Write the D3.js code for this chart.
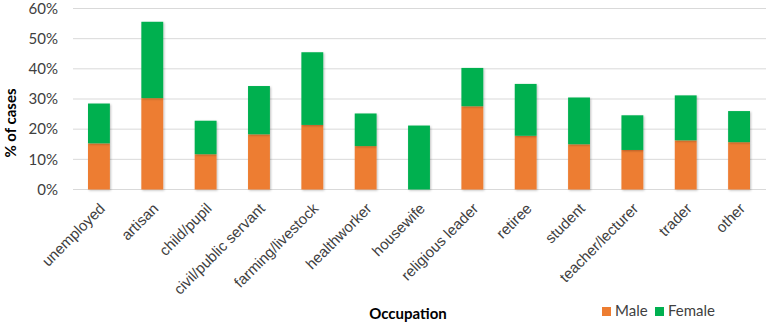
<!DOCTYPE html>
<html>
<head>
<meta charset="utf-8">
<script src="https://cdn.jsdelivr.net/npm/d3@7"></script>
<style>
    body { margin: 0; background: #fff; }
    svg { display: block; font-family: Lato, "Open Sans", sans-serif; }
</style>
</head>
<body>
<div id="chart"></div>
<script>
const categories = ['unemployed', 'artisan', 'child/pupil', 'civil/public servant', 'farming/livestock',
    'healthworker', 'housewife', 'religious leader', 'retiree', 'student', 'teacher/lecturer', 'trader', 'other'];
const maleValues = [15.3, 30.3, 11.7, 18.3, 21.4, 14.4, 0, 27.6, 17.8, 15.0, 13.1, 16.3, 15.7];
const femaleValues = [13.2, 25.3, 11.1, 16.0, 24.1, 10.8, 21.2, 12.7, 17.2, 15.5, 11.5, 14.9, 10.3];
const seriesNames = ['Male', 'Female'];
const yTicks = [0, 10, 20, 30, 40, 50, 60];

const width = 767;
const height = 325;
const margin = { top: 8.5, right: 1, bottom: 135.5, left: 72 };

const colors = { Male: '#ED7D31', Female: '#00B050' };

// Build stack rows
const data = categories.map((c, i) => ({ name: c, Male: maleValues[i], Female: femaleValues[i] }));
const stacked = d3.stack().keys(seriesNames)(data);

const svg = d3.select('#chart')
    .append('svg')
    .attr('width', width)
    .attr('height', height);

// Bar shadow
const defs = svg.append('defs');
const filter = defs.append('filter')
    .attr('id', 'shadow')
    .attr('x', '-20%').attr('y', '-20%')
    .attr('width', '150%').attr('height', '150%');
filter.append('feDropShadow')
    .attr('dx', 1).attr('dy', 1)
    .attr('stdDeviation', 1)
    .attr('flood-color', '#000')
    .attr('flood-opacity', 0.25);

const x = d3.scaleBand()
    .domain(categories)
    .range([margin.left, width - margin.right])
    .paddingInner(0.59)
    .paddingOuter(0.3);

const y = d3.scaleLinear()
    .domain([0, 60])
    .range([height - margin.bottom, margin.top]);

// Grid lines
svg.append('g')
    .attr('class', 'grid')
    .selectAll('line')
    .data(yTicks)
    .join('line')
    .attr('x1', margin.left + 1)
    .attr('x2', width - margin.right)
    .attr('y1', d => y(d))
    .attr('y2', d => y(d))
    .attr('stroke', '#d9d9d9')
    .attr('stroke-width', 1);

// Y axis
const yAxis = svg.append('g')
    .attr('transform', `translate(${margin.left},0)`)
    .call(d3.axisLeft(y).tickValues(yTicks).tickFormat(d => d + '%').tickSize(0).tickPadding(14));
yAxis.select('.domain').remove();
yAxis.selectAll('text')
    .attr('font-size', 15)
    .attr('font-family', 'Lato, sans-serif')
    .attr('fill', '#404040');

// Bars
svg.append('g')
    .attr('class', 'bars')
    .selectAll('g')
    .data(stacked)
    .join('g')
    .attr('fill', d => colors[d.key])
    .selectAll('rect')
    .data(d => d)
    .join('rect')
    .attr('x', d => x(d.data.name))
    .attr('y', d => y(d[1]))
    .attr('width', x.bandwidth())
    .attr('height', d => y(d[0]) - y(d[1]))
    .attr('filter', 'url(#shadow)');

// X axis
const xAxis = svg.append('g')
    .attr('transform', `translate(0,${y(0)})`)
    .call(d3.axisBottom(x).tickSize(0).tickPadding(0));
xAxis.select('.domain').remove();
xAxis.selectAll('text')
    .attr('font-size', 15)
    .attr('fill', '#404040')
    .attr('text-anchor', 'end')
    .attr('dy', 0)
    .attr('transform', 'translate(7,20) rotate(-45)');

// Axis titles
svg.append('text')
    .attr('transform', 'translate(16,123) rotate(-90)')
    .attr('text-anchor', 'middle')
    .attr('font-size', 15)
    .attr('font-weight', 'bold')
    .attr('fill', '#000')
    .text('% of cases');

svg.append('text')
    .attr('x', 408)
    .attr('y', 319)
    .attr('text-anchor', 'middle')
    .attr('font-size', 15)
    .attr('font-weight', 'bold')
    .attr('fill', '#000')
    .text('Occupation');

// Legend
const legend = svg.append('g')
    .attr('class', 'legend')
    .attr('transform', 'translate(602,307)');
const legendOffsets = [0, 53];
seriesNames.forEach((name, i) => {
    const g = legend.append('g').attr('transform', `translate(${legendOffsets[i]},0)`);
    g.append('rect')
        .attr('width', 9)
        .attr('height', 9)
        .attr('fill', colors[name]);
    g.append('text')
        .attr('x', 13)
        .attr('y', 9)
        .attr('font-size', 15)
        .attr('fill', '#404040')
        .text(name);
});
</script>
</body>
</html>
